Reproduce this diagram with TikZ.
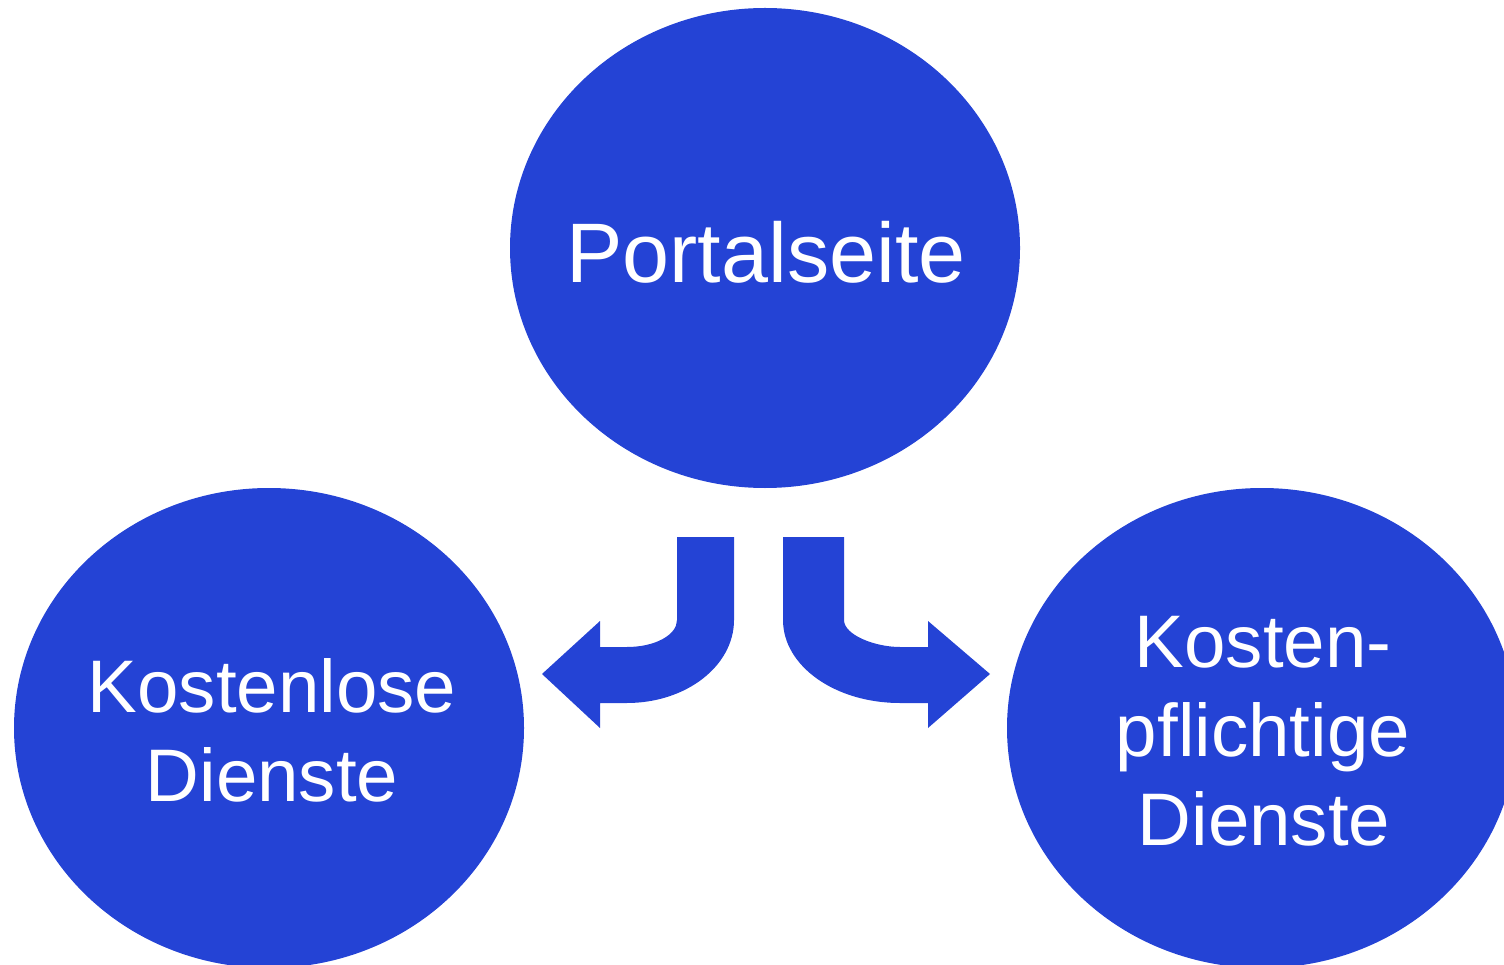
\documentclass[tikz,border=0pt]{standalone}
\usepackage{fontspec}
\setmainfont{Liberation Sans}
\usetikzlibrary{shapes.geometric}
\definecolor{cblue}{RGB}{36,67,213}
\tikzset{
  bubble/.style={ellipse, fill=cblue, draw=none, inner sep=0pt, minimum width=510, minimum height=480},
  bigtxt/.style={text=white, anchor=base, inner sep=0pt, font=\fontsize{84.5}{100}\selectfont},
  txt/.style={text=white, anchor=base, inner sep=0pt, font=\fontsize{74.5}{89}\selectfont},
  blockarrow/.style={fill=cblue, draw=none}
}
\begin{document}
\begin{tikzpicture}[x=1pt,y=-1pt]
\useasboundingbox (0,0) rectangle (1504,965);
\node[bubble] (portal) at (765,248) {};
\node[bubble] (frei) at (269,728) {};
\node[bubble] (pflicht) at (1262,728) {};
\node[bigtxt] (tportal) at (766,283) {Portalseite};
\node[txt] (tfrei1) at (272,712) {Kostenlose};
\node[txt] (tfrei2) at (272,801) {Dienste};
\node[txt] (tpf1) at (1263,667) {Kosten-};
\node[txt] (tpf2) at (1263,756) {pflichtige};
\node[txt] (tpf3) at (1264,845) {Dienste};
% left block arrow
\fill[blockarrow] (677,537) -- (734,537) -- (734,620)
  .. controls (734,666) and (686,703) .. (627,703) -- (600,703) -- (600,728)
  -- (542,674) -- (600,621) -- (600,647) -- (627,647)
  .. controls (655,647) and (677,635) .. (677,620) -- cycle;
% right block arrow
\fill[blockarrow] (783,537) -- (844,537) -- (844,620)
  .. controls (844,635) and (875,647) .. (900,647) -- (928,647) -- (928,621)
  -- (990,674) -- (928,728) -- (928,703) -- (900,703)
  .. controls (835,703) and (783,666) .. (783,620) -- cycle;
\end{tikzpicture}
\end{document}
